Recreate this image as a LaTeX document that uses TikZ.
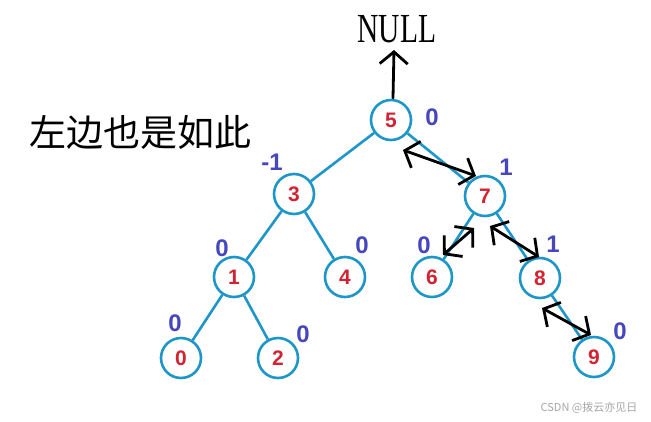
\documentclass[tikz,border=0pt]{standalone}
\usepackage{fontspec}
\setmainfont{Liberation Sans}
\newfontfamily\serifnull{Liberation Serif}
\newfontfamily\cjk{Noto Sans CJK SC}
\usetikzlibrary{arrows.meta}
\definecolor{edgeblue}{RGB}{30,150,200}
\definecolor{numred}{RGB}{210,35,50}
\definecolor{balblue}{RGB}{70,70,190}
\tikzset{
  tnode/.style={circle,draw=edgeblue,line width=2.6pt,fill=white,minimum size=40pt,inner sep=0pt,
    font=\fontsize{21}{21}\selectfont\bfseries,text=numred},
  bal/.style={font=\fontsize{24}{24}\selectfont\bfseries,text=balblue,inner sep=0pt},
  tedge/.style={edgeblue,line width=2.6pt},
  harrow/.style={black,line width=2.8pt,line cap=round,line join=round},
  hbarb/.tip={Straight Barb[length=12pt,width=28pt,line width=2.8pt]}
}
\begin{document}
\begin{tikzpicture}[x=1pt,y=-1pt]
\useasboundingbox[fill=white] (0,0) rectangle (651,421);
\coordinate (p5) at (391,120);
\coordinate (p3) at (294,194);
\coordinate (p7) at (485,196);
\coordinate (p1) at (234,277);
\coordinate (p4) at (345,277);
\coordinate (p6) at (432,277);
\coordinate (p8) at (540,278);
\coordinate (p0) at (181,358);
\coordinate (p2) at (278,358);
\coordinate (p9) at (594,357);
\node[tnode] (n5) at (p5) {5};
\node[tnode] (n3) at (p3) {3};
\node[tnode] (n7) at (p7) {7};
\node[tnode] (n1) at (p1) {1};
\node[tnode] (n4) at (p4) {4};
\node[tnode] (n6) at (p6) {6};
\node[tnode] (n8) at (p8) {8};
\node[tnode] (n0) at (p0) {0};
\node[tnode] (n2) at (p2) {2};
\node[tnode] (n9) at (p9) {9};
\draw[tedge] (n5) -- (n3);
\draw[tedge] (n5) -- (n7);
\draw[tedge] (n3) -- (n1);
\draw[tedge] (n3) -- (n4);
\draw[tedge] (n1) -- (n0);
\draw[tedge] (n1) -- (n2);
\draw[tedge] (n7) -- (n6);
\draw[tedge] (n7) -- (n8);
\draw[tedge] (n8) -- (n9);
% balance factors
\node[bal] (b5) at (432,117) {0};
\node[bal] (b3) at (272,162) {-1};
\node[bal] (b7) at (506,167) {1};
\node[bal] (b1) at (222,248) {0};
\node[bal] (b4) at (362,245) {0};
\node[bal] (b6) at (424,245) {0};
\node[bal] (b8) at (553,244) {1};
\node[bal] (b0) at (175,323) {0};
\node[bal] (b2) at (303,334) {0};
\node[bal] (b9) at (620,331) {0};
% NULL
\node[font=\serifnull\fontsize{29.5}{29.5}\selectfont,yscale=1.4,inner sep=0pt] (null) at (397,29) {NULL};
% Chinese note
\node[font=\cjk\fontsize{37}{37}\selectfont,inner sep=0pt] (note) at (141,132) {左边也是如此};
% watermark
\node[font=\cjk\fontsize{11}{11}\selectfont,text=black!35,inner sep=0pt] (wm) at (589,408) {CSDN @拨云亦见日};
% hand-drawn arrows
\coordinate (a5t) at (393,98);
\coordinate (a5h) at (394,50);
\draw[harrow,-{hbarb}] (a5t) -- (a5h);
\coordinate (a57a) at (403,150);
\coordinate (a57b) at (476,176);
\draw[harrow,{hbarb}-{hbarb}] (a57a) -- (a57b);
\coordinate (a76a) at (443,255);
\coordinate (a76b) at (474,228);
\draw[harrow,{hbarb}-{hbarb}] (a76a) -- (a76b);
\coordinate (a78a) at (490,226);
\coordinate (a78b) at (539,257);
\draw[harrow,{hbarb}-{hbarb}] (a78a) -- (a78b);
\coordinate (a89a) at (542,308);
\coordinate (a89b) at (591,335);
\draw[harrow,{hbarb}-{hbarb}] (a89a) -- (a89b);
\end{tikzpicture}
\end{document}
